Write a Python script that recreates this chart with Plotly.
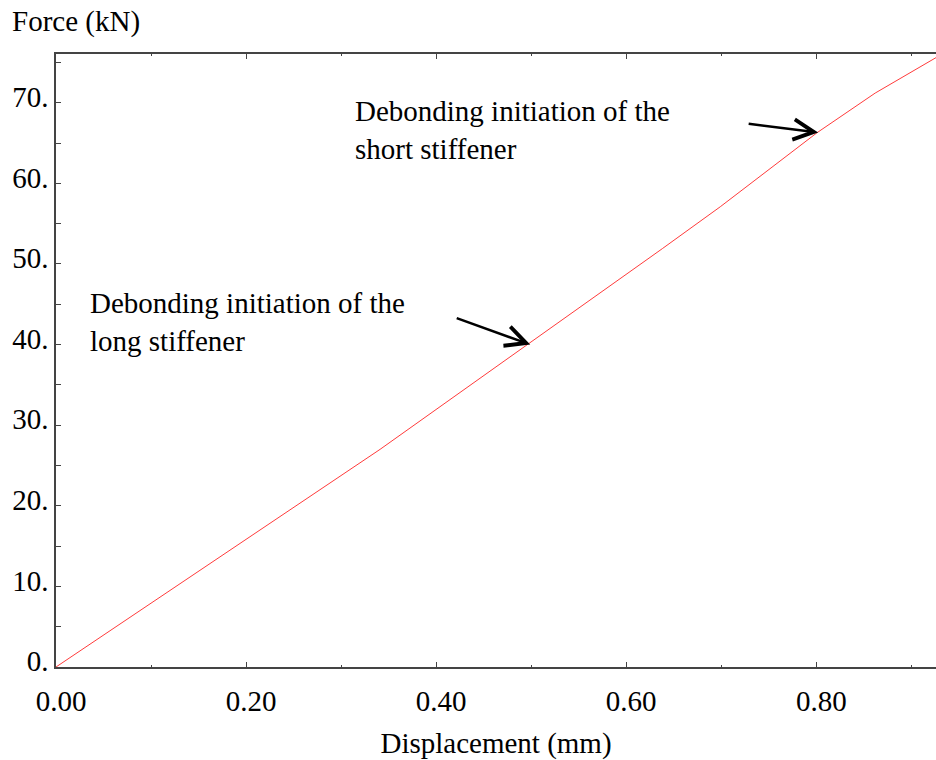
import plotly.graph_objects as go

# Data
disp_mm = [0.0, 0.10, 0.20, 0.278, 0.341, 0.496, 0.60, 0.638, 0.699, 0.801, 0.862, 0.893, 0.926]
force_kN = [0.0, 7.9, 15.8, 22.0, 27.0, 40.0, 48.7, 51.9, 57.1, 66.3, 71.2, 73.3, 75.6]

x_tickvals = [0.0, 0.2, 0.4, 0.6, 0.8]
x_ticktext = ["0.00", "0.20", "0.40", "0.60", "0.80"]
y_tickvals = [0, 10, 20, 30, 40, 50, 60, 70]
y_ticktext = ["0.", "10.", "20.", "30.", "40.", "50.", "60.", "70."]

long_point = (0.499, 40.0)
short_point = (0.802, 66.3)
long_text = "Debonding initiation of the<br>long stiffener"
short_text = "Debonding initiation of the<br>short stiffener"

FONT = "Liberation Serif, Times New Roman, serif"
AX = "#444444"
FS = 29

fig = go.Figure()
fig.add_trace(go.Scatter(x=disp_mm, y=force_kN, mode="lines",
                         line=dict(color="#ff3b3b", width=1), showlegend=False))

fig.update_layout(
    width=936, height=760,
    margin=dict(l=56, r=0, t=54, b=93),
    paper_bgcolor="white", plot_bgcolor="white",
    font=dict(family=FONT, size=FS, color="black"),
    xaxis=dict(
        range=[0, 0.926], showgrid=False, zeroline=False,
        showline=True, linecolor=AX, linewidth=1.5, mirror="allticks",
        ticks="inside", ticklen=5, tickcolor=AX, tickwidth=1,
        tickvals=x_tickvals, ticktext=x_ticktext,
        minor=dict(dtick=0.1, tick0=0, ticks="inside", ticklen=2, tickcolor=AX),
        ticklabelstandoff=7, ticklabelshift=5,
        title=dict(text="Displacement (mm)", standoff=19, font=dict(size=FS)),
    ),
    yaxis=dict(
        range=[0, 76.05], showgrid=False, zeroline=False,
        showline=True, linecolor=AX, linewidth=1.5,
        ticks="inside", ticklen=5, tickcolor=AX, tickwidth=1,
        tickvals=y_tickvals, ticktext=y_ticktext,
        minor=dict(dtick=5, tick0=0, ticks="inside", ticklen=5, tickcolor=AX),
        ticklabelstandoff=0, ticklabelshift=-6,
    ),
    annotations=[
        dict(text="Force (kN)", xref="paper", yref="paper", x=-0.052, y=1.0,
             xanchor="left", yanchor="bottom", yshift=14, showarrow=False,
             font=dict(size=FS)),
        dict(text=long_text, x=0.034, y=42.8, xref="x", yref="y",
             xanchor="left", yanchor="middle", align="left", showarrow=False),
        dict(text=short_text, x=0.313, y=66.6, xref="x", yref="y",
             xanchor="left", yanchor="middle", align="left", showarrow=False),
        dict(text="", x=long_point[0], y=long_point[1], xref="x", yref="y",
             ax=-75, ay=-27, showarrow=True, arrowhead=5, arrowsize=1.6,
             arrowwidth=2.5, arrowcolor="black", standoff=0),
        dict(text="", x=short_point[0], y=short_point[1], xref="x", yref="y",
             ax=-71, ay=-9, showarrow=True, arrowhead=5, arrowsize=1.6,
             arrowwidth=2.5, arrowcolor="black", standoff=0),
    ],
)

fig.write_html("out.html")
